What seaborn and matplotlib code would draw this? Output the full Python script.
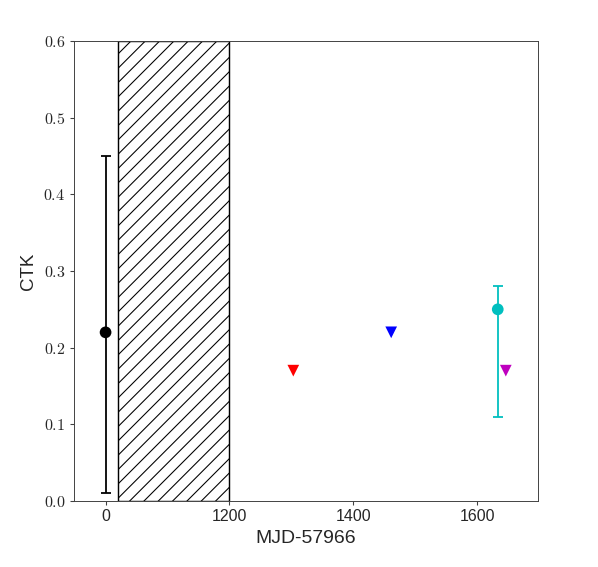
import matplotlib
matplotlib.use("Agg")
import matplotlib.pyplot as plt
import seaborn as sns
import pandas as pd
from matplotlib.ticker import FuncFormatter

# plotted positions on a compressed axis (first point sits at label "0")
det_x = [1000, 1633]
det_y = [0.22, 0.25]
det_lo = [0.01, 0.11]
det_hi = [0.45, 0.28]
det_colors = ["k", "c"]

lim_x = [1303, 1461, 1646]
lim_y = [0.17, 0.22, 0.17]
lim_colors = ["r", "b", "m"]

gap_start, gap_end = 1020, 1200
xtick_pos = [1000, 1200, 1400, 1600]
xtick_labels = ["0", "1200", "1400", "1600"]
ytick_pos = [0.0, 0.1, 0.2, 0.3, 0.4, 0.5, 0.6]

sns.set_style("ticks")
plt.rcParams["font.family"] = ["Liberation Sans", "DejaVu Sans"]
plt.rcParams["mathtext.fontset"] = "cm"
plt.rcParams["hatch.linewidth"] = 0.9

DPI = 86
fig = plt.figure(figsize=(598 / DPI, 567 / DPI), dpi=DPI)
ax = fig.add_axes([0.1237, 0.1164, 0.776, 0.8113])

ax.axvspan(gap_start, gap_end, facecolor="none", edgecolor="k", hatch="//", lw=1.2)

for x, y, lo, hi, c in zip(det_x, det_y, det_lo, det_hi, det_colors):
    ax.errorbar([x], [y], yerr=[[y - lo], [hi - y]], fmt="none", ecolor=c,
                elinewidth=1.5, capsize=4, capthick=1.5)

det = pd.DataFrame({"x": det_x, "y": det_y, "c": det_colors})
sns.scatterplot(data=det, x="x", y="y", hue="c", palette=dict(zip(det_colors, det_colors)),
                marker="o", s=96, edgecolor="none", legend=False, ax=ax, zorder=3)
lim = pd.DataFrame({"x": lim_x, "y": lim_y, "c": lim_colors})
sns.scatterplot(data=lim, x="x", y="y", hue="c", palette=dict(zip(lim_colors, lim_colors)),
                marker="v", s=96, edgecolor="none", legend=False, ax=ax, zorder=3)

ax.set_xlim(949, 1698)
ax.set_ylim(0, 0.6)
ax.set_xticks(xtick_pos)
ax.set_xticklabels(xtick_labels, fontsize=13.4)
ax.set_yticks(ytick_pos)
ax.yaxis.set_major_formatter(FuncFormatter(lambda v, p: f"${v:.1f}$"))
ax.tick_params(axis="y", labelsize=13.4)
ax.set_xlabel("MJD-57966", fontsize=16.2, labelpad=5)
ax.set_ylabel("CTK", fontsize=15.7)
ax.yaxis.set_label_coords(-0.08, 0.5)

for s in ax.spines.values():
    s.set_visible(True)
    s.set_color("0.25")
ax.tick_params(direction="out", color="0.25", length=3, width=0.9, pad=4)

fig.savefig("out.png", dpi=DPI)
